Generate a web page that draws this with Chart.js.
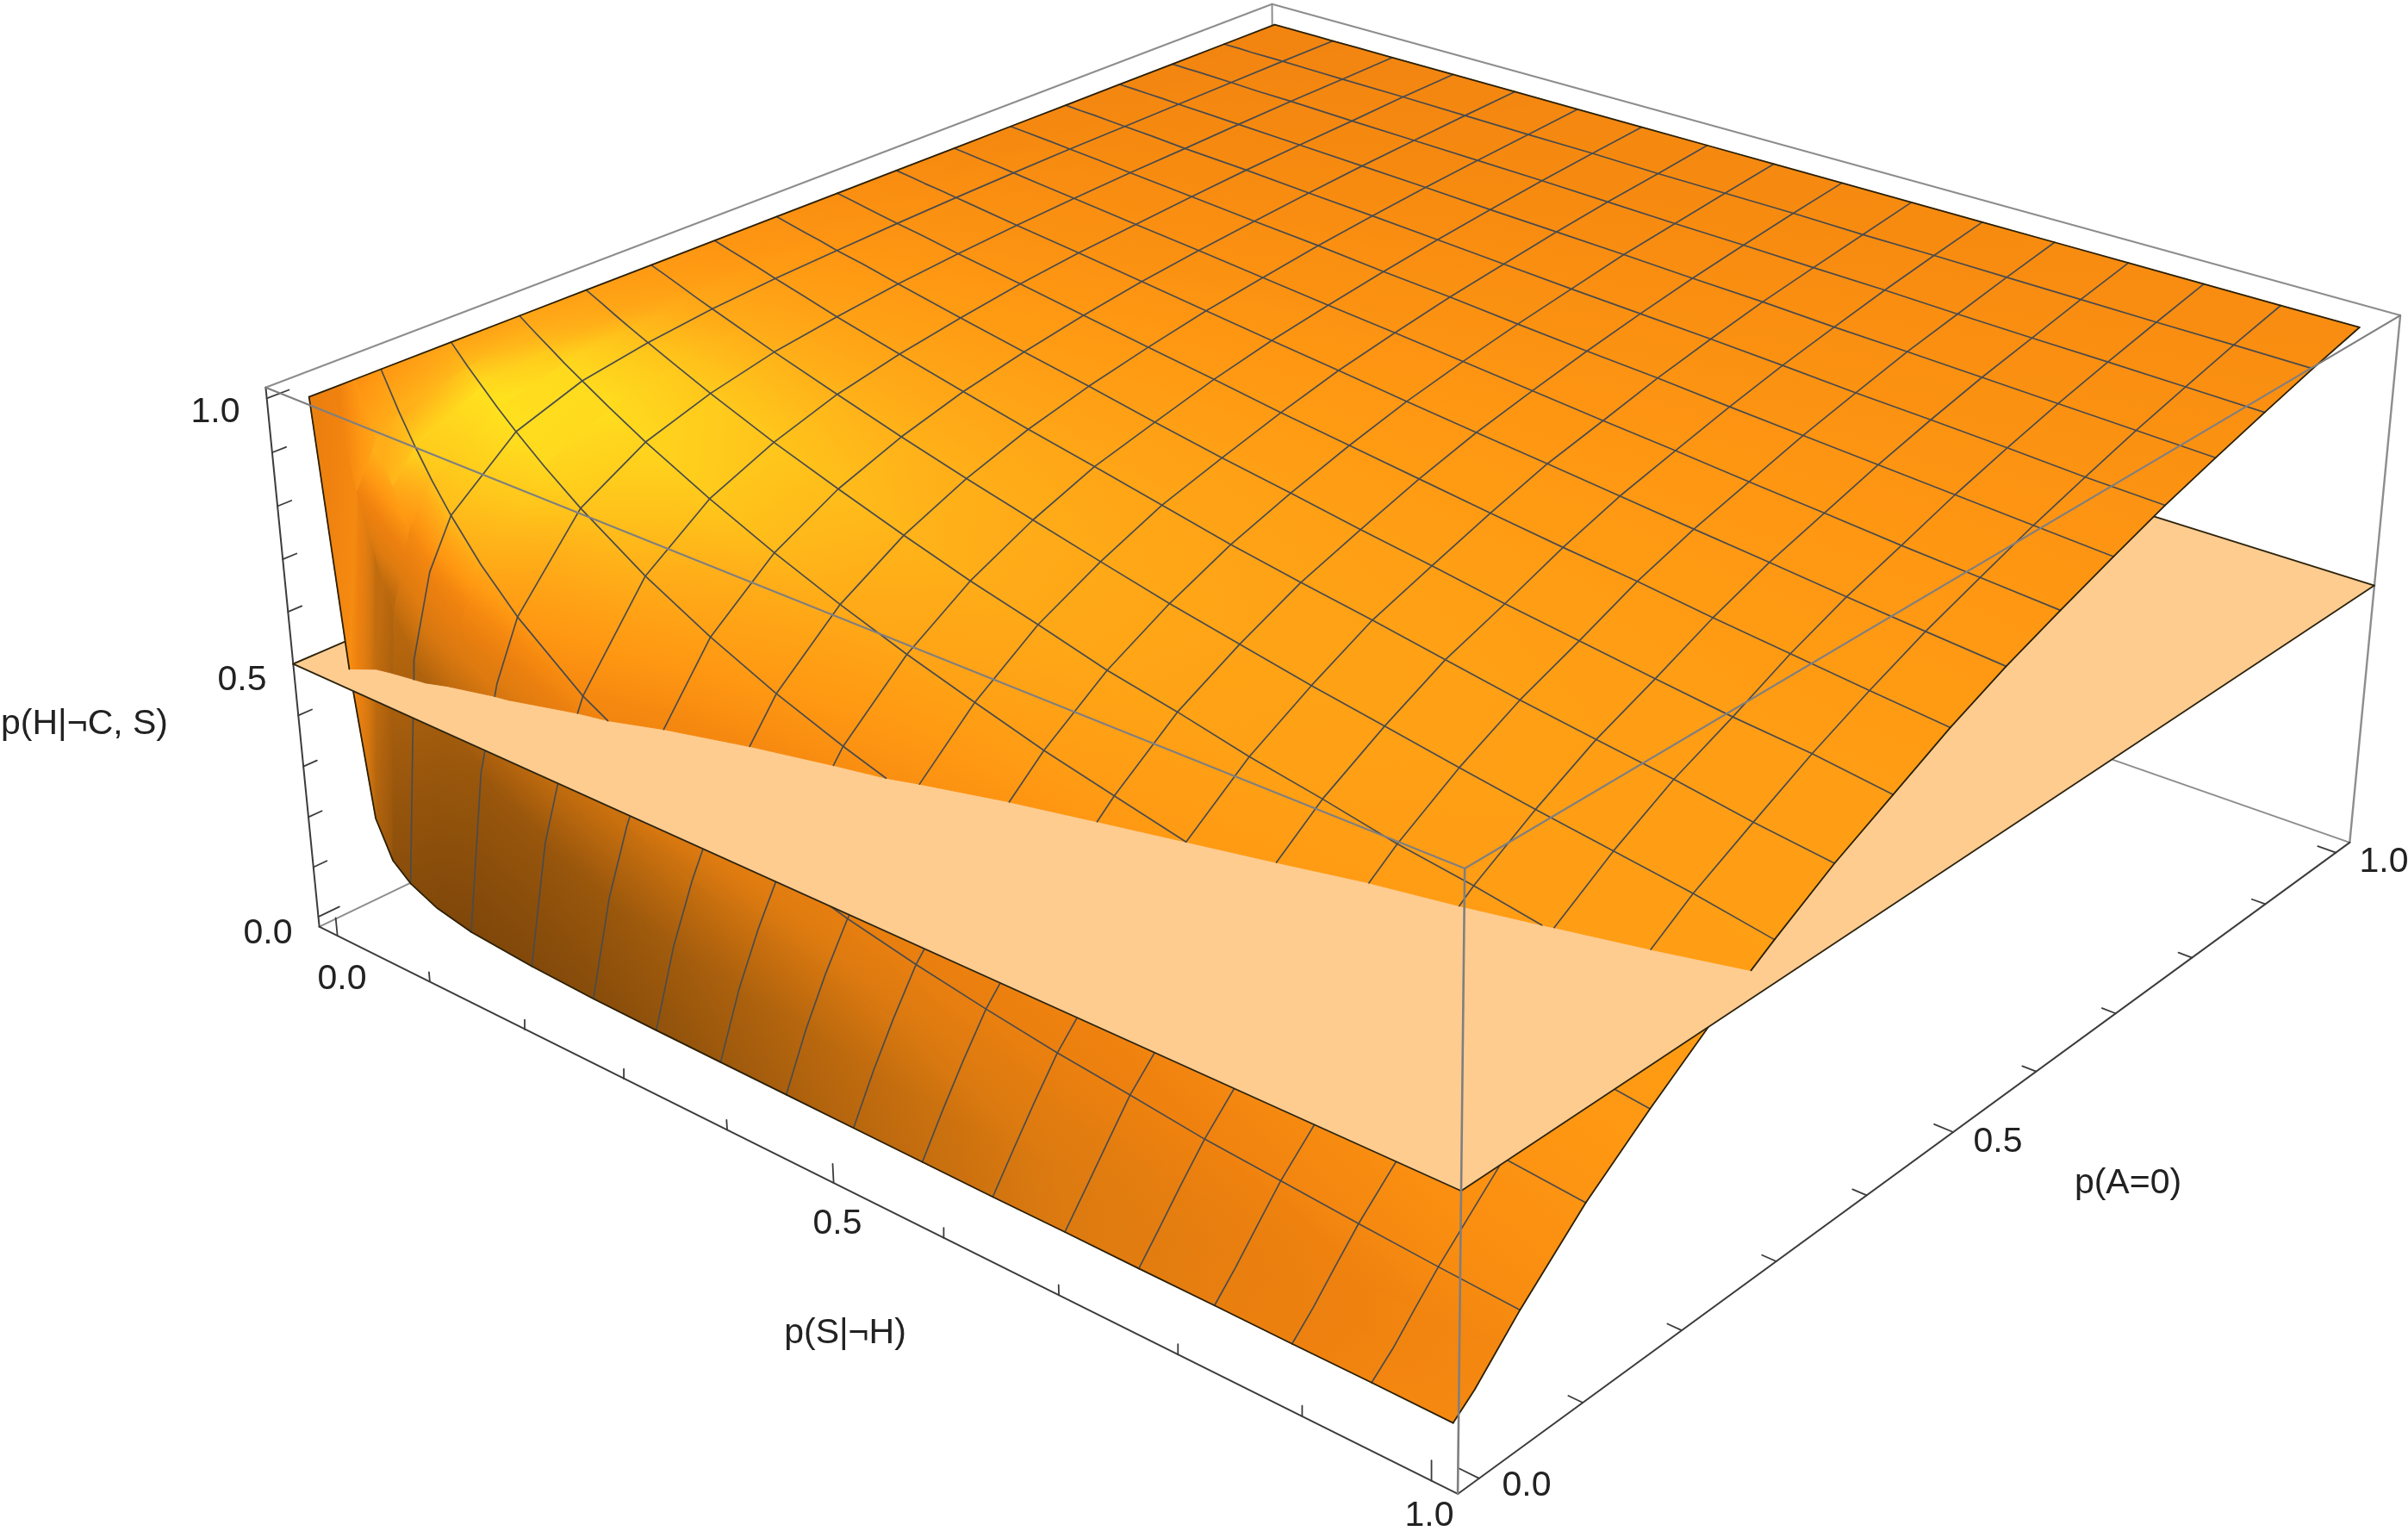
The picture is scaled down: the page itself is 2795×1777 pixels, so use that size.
<!DOCTYPE html>
<html><head><meta charset="utf-8"><title>p(H|¬C, S)</title>
<script src="https://cdn.jsdelivr.net/npm/chart.js@4"></script>
<style>html,body{margin:0;padding:0;background:#fff}canvas{display:block}</style>
</head><body><canvas id="c" width="2795" height="1777"></canvas>
<script>
const xAxisTitle = "p(S|¬H)";
const yAxisTitle = "p(A=0)";
const zAxisTitle = "p(H|¬C, S)";
const tickValues = [0,0.1,0.2,0.3,0.4,0.5,0.6,0.7,0.8,0.9,1];
const majorTicks = [0,0.5,1];
const tickLabels = ["0.0","0.5","1.0"];
const planeLevel = 0.5;
const meshValues = [0.0625,0.125,0.1875,0.25,0.3125,0.375,0.4375,0.5,0.5625,0.625,0.6875,0.75,0.8125,0.875,0.9375];
const pSgrid = [0,0.016,0.03,0.045,0.0625,0.09,0.125,0.1875,0.25,0.3125,0.375,0.4375,0.5,0.5625,0.625,0.6875,0.75,0.8125,0.875,0.9375,1];
const pAgrid = [0,0.02,0.04,0.0625,0.125,0.1875,0.25,0.3125,0.375,0.4375,0.5,0.5625,0.625,0.6875,0.75,0.8125,0.875,0.9375,1];
const surface = [
[1,.5,.22,.15,.12,.095,.08,.07,.065,.063,.062,.061,.06,.059,.058,.058,.057,.057,.056,.056,.055],
[1,.815,.704,.611,.535,.446,.37,.288,.237,.202,.178,.159,.144,.132,.122,.114,.108,.101,.096,.091,.087],
[1,.894,.819,.751,.684,.601,.521,.421,.355,.306,.27,.242,.219,.2,.184,.171,.16,.15,.142,.134,.127],
[1,.93,.876,.824,.771,.7,.627,.527,.457,.402,.358,.323,.295,.271,.25,.234,.216,.204,.192,.181,.172],
[1,.965,.937,.907,.875,.829,.776,.695,.629,.573,.526,.485,.449,.419,.391,.367,.345,.326,.31,.296,.282],
[1,.978,.96,.94,.919,.886,.847,.785,.73,.681,.637,.598,.561,.53,.5,.475,.45,.429,.407,.39,.372],
[1,.985,.971,.957,.941,.917,.887,.838,.795,.754,.716,.683,.648,.622,.592,.568,.541,.521,.497,.476,.455],
[1,.989,.979,.968,.956,.938,.915,.877,.84,.806,.774,.743,.713,.687,.661,.638,.615,.593,.573,.553,.528],
[1,.991,.984,.976,.966,.952,.933,.903,.874,.846,.82,.793,.766,.743,.722,.699,.676,.656,.637,.614,.596],
[1,.993,.987,.981,.973,.963,.948,.923,.899,.876,.851,.828,.807,.785,.765,.743,.724,.705,.687,.673,.653],
[1,.995,.99,.985,.979,.971,.959,.94,.92,.9,.881,.861,.843,.825,.807,.79,.775,.757,.741,.725,.71],
[1,.996,.992,.989,.984,.977,.968,.953,.937,.921,.905,.89,.874,.859,.845,.83,.815,.801,.786,.772,.759],
[1,.997,.994,.992,.988,.982,.975,.962,.95,.937,.924,.912,.899,.886,.873,.861,.848,.836,.823,.812,.801],
[1,.998,.996,.994,.991,.987,.981,.971,.961,.952,.941,.932,.921,.911,.902,.891,.881,.871,.861,.851,.841],
[1,.998,.997,.995,.993,.99,.985,.979,.971,.964,.956,.948,.94,.933,.926,.918,.909,.902,.894,.885,.879],
[1,.999,.998,.997,.995,.993,.99,.985,.98,.975,.969,.964,.959,.953,.948,.941,.936,.93,.924,.918,.912],
[1,.999,.999,.998,.997,.995,.994,.99,.987,.984,.981,.977,.973,.97,.966,.963,.958,.954,.951,.947,.943],
[1,1,.999,.999,.999,.998,.997,.996,.994,.992,.991,.988,.987,.986,.983,.982,.98,.978,.976,.975,.973],
[1,1,1,1,1,1,1,1,1,1,1,1,1,1,1,1,1,1,1,1,1]
];

/* ---- camera: fitted to where the box corners sit in the picture ---- */
const LO=-0.02, HI=1.02;
const cameraAnchors=[[LO,LO,HI,307,451],[LO,LO,LO,371,1074],[LO,HI,HI,1478,3],[HI,HI,HI,2788,367],[HI,HI,LO,2727,976],
[HI,LO,HI,1700,1005],[HI,LO,LO,1692,1723],[HI,LO,.5,1696,1375],[HI,HI,.5,2755,680],[LO,LO,.5,341,771],
[0,1,1,1478,29],[1,1,1,2738,382],[0,0,1,359,462],[1,0,.055,1687,1671]];
function fitCamera(a){
  const n=11,A=Array.from({length:n},()=>new Array(n+1).fill(0));
  const add=(r,b)=>{for(let i=0;i<n;i++){for(let j=0;j<n;j++)A[i][j]+=r[i]*r[j];A[i][n]+=r[i]*b;}};
  for(const [X,Y,Z,u0,v0] of a){const u=u0/1000,v=v0/1000;
    add([X,Y,Z,1,0,0,0,0,-u*X,-u*Y,-u*Z],u);add([0,0,0,0,X,Y,Z,1,-v*X,-v*Y,-v*Z],v);}
  for(let i=0;i<n;i++){let p=i;for(let k=i+1;k<n;k++)if(Math.abs(A[k][i])>Math.abs(A[p][i]))p=k;
    [A[i],A[p]]=[A[p],A[i]];
    for(let k=0;k<n;k++){if(k===i)continue;const f=A[k][i]/A[i][i];for(let j=i;j<=n;j++)A[k][j]-=f*A[i][j];}}
  return A.map((r,i)=>r[n]/r[i]);
}
const M=fitCamera(cameraAnchors);
function project(x,y,z){const w=M[8]*x+M[9]*y+M[10]*z+1;
  return {x:1000*(M[0]*x+M[1]*y+M[2]*z+M[3])/w,y:1000*(M[4]*x+M[5]*y+M[6]*z+M[7])/w};}

/* ---- shading ---- */
const ramp=[[0,[60,32,4]],[.15,[105,58,8]],[.3,[150,85,12]],[.48,[220,122,16]],[.6,[240,130,15]],[.68,[255,150,18]],[.78,[255,172,24]],[.88,[255,205,28]],[1,[255,240,32]]];
function rampColor(L){L=Math.max(0,Math.min(1,L));
  for(let i=1;i<ramp.length;i++)if(L<=ramp[i][0]){const [a,ca]=ramp[i-1],[b,cb]=ramp[i],t=(L-a)/(b-a);
    return `rgb(${ca.map((c,k)=>Math.round(c+(cb[k]-c)*t)).join(',')})`;}
  return 'rgb(255,240,32)';}
function clamp01(v){return Math.max(0,Math.min(1,v));}
function shadeAt(j,i){
  const ni=pSgrid.length-1,nj=pAgrid.length-1;
  const i0=Math.max(0,i-1),i1=Math.min(ni,i+1),j0=Math.max(0,j-1),j1=Math.min(nj,j+1);
  const fx=(surface[j][i1]-surface[j][i0])/(pSgrid[i1]-pSgrid[i0]);
  const fy=(surface[j1][i]-surface[j0][i])/(pAgrid[j1]-pAgrid[j0]);
  const s=Math.hypot(fx,fy,1),n=[-fx/s,-fy/s,1/s];
  const base=Math.min(.03+n[2]*.95+.35*Math.max(0,n[0])*(1-n[2]),.52);
  const g=Math.max(0,.72*n[0]-.51*n[1]+.44*n[2]);
  return base+(.2*g+.42*Math.pow(g,12))*clamp01(n[2]*4+n[0]*3);
}
let shades=pAgrid.map((_,j)=>pSgrid.map((_,i)=>shadeAt(j,i)));
/* soften the rounding noise of the read values, away from the steep corner */
for(let pass=0;pass<2;pass++){
  shades=shades.map((row,j)=>row.map((v,i)=>{
    if(i<3)return v;
    let sum=0,w=0;
    for(let dj=-1;dj<=1;dj++)for(let di=-1;di<=1;di++){
      const r=shades[j+dj];if(!r||r[i+di]===undefined||i+di<3)continue;
      const k=(dj?1:2)*(di?1:2);sum+=r[i+di]*k;w+=k;}
    return sum/w;}));
}

const canvas=document.getElementById('c'),ctx=canvas.getContext('2d');
function cellFill(P,L){
  const du={x:(P[1].x-P[0].x+P[2].x-P[3].x)/2,y:(P[1].y-P[0].y+P[2].y-P[3].y)/2};
  const dv={x:(P[3].x-P[0].x+P[2].x-P[1].x)/2,y:(P[3].y-P[0].y+P[2].y-P[1].y)/2};
  const dLu=(L[1]-L[0]+L[2]-L[3])/2,dLv=(L[3]-L[0]+L[2]-L[1])/2;
  const det=du.x*dv.y-du.y*dv.x, Lc=(L[0]+L[1]+L[2]+L[3])/4;
  if(Math.abs(det)<1)return rampColor(Lc);
  const a=(dLu*dv.y-dLv*du.y)/det,b=(du.x*dLv-dv.x*dLu)/det,m=a*a+b*b;
  if(m<1e-12)return rampColor(Lc);
  const lo=Math.min(...L),hi=Math.max(...L);
  if(hi-lo<1e-4)return rampColor(Lc);
  const c={x:(P[0].x+P[1].x+P[2].x+P[3].x)/4,y:(P[0].y+P[1].y+P[2].y+P[3].y)/4};
  const g=ctx.createLinearGradient(c.x+a/m*(lo-Lc),c.y+b/m*(lo-Lc),c.x+a/m*(hi-Lc),c.y+b/m*(hi-Lc));
  const steps=4;for(let k=0;k<=steps;k++)g.addColorStop(k/steps,rampColor(lo+(hi-lo)*k/steps));
  return g;
}
function clipCell(v,below){const out=[];
  for(let k=0;k<v.length;k++){const a=v[k],b=v[(k+1)%v.length];
    const ia=below?a[2]<=planeLevel:a[2]>=planeLevel,ib=below?b[2]<=planeLevel:b[2]>=planeLevel;
    if(ia)out.push(a);
    if(ia!==ib){const t=(planeLevel-a[2])/(b[2]-a[2]);out.push([a[0]+(b[0]-a[0])*t,a[1]+(b[1]-a[1])*t,planeLevel]);}}
  return out;}

const layers=[];
function polyDS(pts,fill){const d=pts.concat([pts[0]]);
  layers.push({data:d,showLine:true,fill:'shape',backgroundColor:fill,borderColor:fill,borderWidth:1.1,pointRadius:0,tension:0});}
function lineDS(pts,color,w){layers.push({data:pts,showLine:true,fill:false,borderColor:color,borderWidth:w,pointRadius:0,tension:0,borderCapStyle:'round',borderJoinStyle:'round'});}
function seg3(a,b,color,w){lineDS([project(...a),project(...b)],color,w);}
function surfaceCells(below){
  for(let i=0;i<pSgrid.length-1;i++)for(let j=pAgrid.length-2;j>=0;j--){
    const idx=[[i,j],[i+1,j],[i+1,j+1],[i,j+1]];
    const v=idx.map(([a,b])=>[pSgrid[a],pAgrid[b],surface[b][a]]);
    const P=v.map(q=>project(...q));
    const L=idx.map(([a,b])=>shades[b][a]);
    const f=cellFill(P,L);
    const c=clipCell(v,below);
    if(c.length>=3)polyDS(c.map(q=>project(...q)),f);
  }
}
function polyline3(nodes,below,color,w){
  let run=[];const flush=()=>{if(run.length>1)lineDS(run.map(q=>project(...q)),color,w);run=[];};
  for(let k=0;k<nodes.length;k++){const a=nodes[k];
    const ok=below?a[2]<=planeLevel:a[2]>=planeLevel;
    if(ok)run.push(a);
    if(k<nodes.length-1){const b=nodes[k+1],okb=below?b[2]<=planeLevel:b[2]>=planeLevel;
      if(ok!==okb){const t=(planeLevel-a[2])/(b[2]-a[2]);const m=[a[0]+(b[0]-a[0])*t,a[1]+(b[1]-a[1])*t,planeLevel];
        if(ok){run.push(m);flush();}else{run=[m];}}}}
  flush();
}
const MESH='#4b4b4b',EDGE='#2a2008',BOX='#8d8d8d',AXIS='#3c3c3c';
function meshLines(below){
  pSgrid.forEach((x,i)=>{if(!meshValues.includes(x))return;
    polyline3(pAgrid.map((y,j)=>[x,y,surface[j][i]]),below,MESH,1.7);});
  pAgrid.forEach((y,j)=>{if(!meshValues.includes(y))return;
    polyline3(pSgrid.map((x,i)=>[x,y,surface[j][i]]),below,MESH,1.7);});
  polyline3(pSgrid.map((x,i)=>[x,0,surface[0][i]]),below,EDGE,1.8);
  polyline3(pSgrid.map((x,i)=>[x,1,surface[pAgrid.length-1][i]]),below,EDGE,1.8);
  polyline3(pAgrid.map((y,j)=>[0,y,surface[j][0]]),below,EDGE,1.8);
  polyline3(pAgrid.map((y,j)=>[1,y,surface[j][pSgrid.length-1]]),below,EDGE,1.8);
}
seg3([LO,LO,HI],[LO,HI,HI],BOX,2);
seg3([LO,HI,HI],[HI,HI,HI],BOX,2);
seg3([LO,HI,HI],[LO,HI,LO],BOX,2);
seg3([LO,LO,LO],[LO,HI,LO],BOX,2);
seg3([LO,HI,LO],[HI,HI,LO],BOX,2);
seg3([HI,HI,HI],[HI,HI,LO],BOX,2.4);
seg3([LO,LO,LO],[LO,LO,HI],AXIS,2);
seg3([LO,LO,LO],[HI,LO,LO],AXIS,2);
seg3([HI,LO,LO],[HI,HI,LO],AXIS,2);
tickValues.forEach(t=>{const big=majorTicks.includes(t);
  seg3([t,LO,LO],[t,LO,LO+(big?.036:.019)],AXIS,1.8);
  seg3([LO,LO,t],[LO,LO+(big?.019:.012),t],AXIS,1.8);
  seg3([HI,t,LO],[HI-(big?.015:.011),t,LO],AXIS,1.8);
});
surfaceCells(true);
meshLines(true);
const planeCorners=[[LO,LO],[HI,LO],[HI,HI],[LO,HI]].map(([x,y])=>project(x,y,planeLevel));
polyDS(planeCorners,'#FFCC90');
seg3([LO,LO,planeLevel],[HI,LO,planeLevel],'#2c2410',1.8);
seg3([HI,LO,planeLevel],[HI,HI,planeLevel],'#2c2410',1.8);
seg3([HI,HI,planeLevel],[LO,HI,planeLevel],'#2c2410',1.8);
seg3([LO,LO,planeLevel],[LO,HI,planeLevel],'#2c2410',1.8);
surfaceCells(false);
meshLines(false);
seg3([LO,LO,HI],[HI,LO,HI],'#7f7f80',2.2);
seg3([HI,LO,HI],[HI,HI,HI],'#7f7f80',2.2);
seg3([HI,LO,HI],[HI,LO,LO],'#7f7f80',2.6);

const textPlugin={id:'axisText',afterDraw(ch){
  const g=ch.ctx,sx=ch.scales.x,sy=ch.scales.y;g.save();
  g.fillStyle='#222';g.font='41px "Liberation Sans", Arial, sans-serif';g.textAlign='center';g.textBaseline='middle';
  const put=(s,x,y)=>g.fillText(s,sx.getPixelForValue(x),sy.getPixelForValue(y));
  const zPos=[[311,1084],[281,790],[250,479]],xPos=[[397,1137],[972,1421],[1659,1760]],yPos=[[1772,1725],[2319,1326],[2767,1001]];
  tickLabels.forEach((s,k)=>{put(s,...zPos[k]);put(s,...xPos[k]);put(s,...yPos[k]);});
  put(zAxisTitle,98,841);put(xAxisTitle,981,1548);put(yAxisTitle,2470,1374);
  g.restore();}};

new Chart(ctx,{type:'scatter',data:{datasets:layers.slice().reverse()},plugins:[textPlugin],options:{
  responsive:false,animation:false,events:[],
  layout:{padding:0},
  plugins:{legend:{display:false},title:{display:false},tooltip:{enabled:false}},
  scales:{x:{type:'linear',min:0,max:2795,display:false},y:{type:'linear',min:0,max:1777,reverse:true,display:false}}
}});
</script></body></html>
